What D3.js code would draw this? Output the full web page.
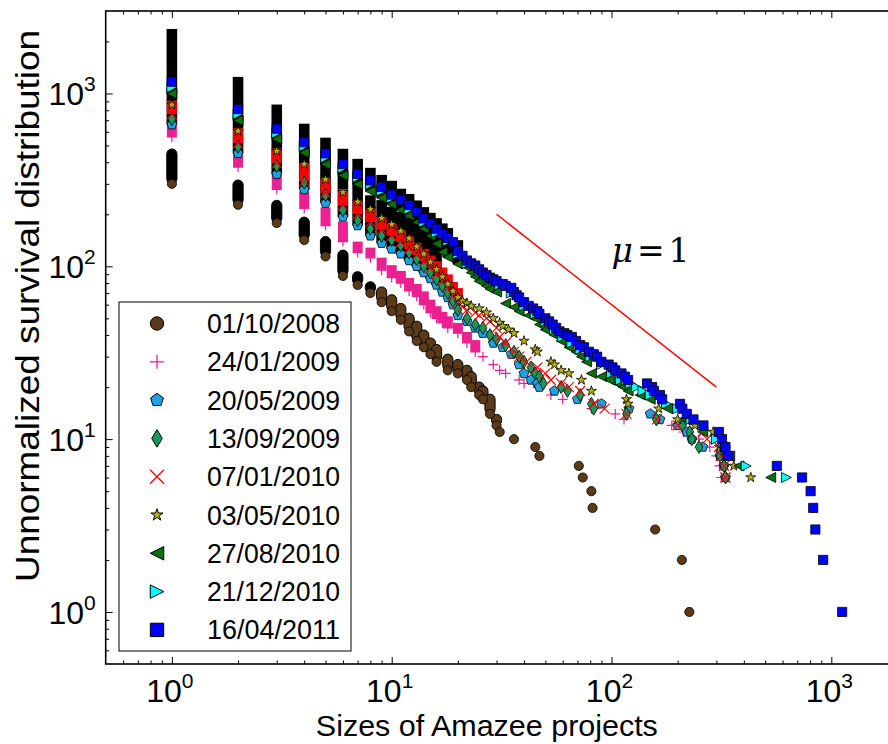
<!DOCTYPE html>
<html>
<head>
<meta charset="utf-8">
<script src="https://cdn.jsdelivr.net/npm/d3@7"></script>
<style>
body { margin: 0; background: #fff; }
text { font-family: "Liberation Sans", Arial, sans-serif; fill: #000; }
</style>
</head>
<body>
<svg id="chart" width="888" height="744"></svg>
<script>
// ---- data: [size, count] pairs ----
const s20081001 = [[1,300],[2,227],[3,178],[4,142],[5,114],[6,88],[7,78],[8,70],[9,62],[10,55],[11,49],[12,42],[13,37],[14,34],[15,31],[16,28],[18,25],[20,24],[22,22],[23,20],[25,18],[26,17],[28,14],[30,12],[31,11],[36,10],[45,9],[47,8],[71,7],[74,6],[81,5],[82,4],[158,3],[209,2],[226,1]];
const s20090124 = [[1,560],[2,375],[3,279],[4,216],[5,172],[6,139],[7,120],[8,112],[9,95],[10,86],[11,80],[12,72],[13,67],[14,60],[15,54],[16,50],[17,47],[18,44],[20,41],[22,36],[24,32],[26,30],[29,27],[31,25],[33,24],[38,22],[40,21],[46,20],[53,18],[60,17],[81,15],[104,14],[114,13],[188,12],[212,11],[250,10],[280,9],[300,8],[310,7],[316,6]];
const s20090520 = [[1,660],[2,450],[3,341],[4,278],[5,232],[6,193],[7,172],[8,150],[9,136],[10,126],[11,118],[12,108],[13,100],[14,92],[15,85],[16,78],[17,71],[18,66],[19,60],[20,52],[22,48],[24,44],[26,41],[29,36],[32,34],[35,31],[38,27],[40,24],[43,22],[46,21],[47,20],[55,19],[70,17],[90,16],[120,15],[150,14],[166,13],[200,12],[220,11],[232,10],[260,9],[312,8],[325,7],[330,6]];
const s20090913 = [[1,710],[2,492],[3,380],[4,305],[5,258],[6,211],[7,184],[8,165],[9,150],[10,142],[11,132],[12,120],[13,110],[14,100],[15,92],[16,84],[17,77],[18,70],[19,63],[20,56],[22,50],[24,46],[26,44],[28,40],[30,38],[33,35],[36,32],[38,30],[40,28],[43,26],[45,24],[47,23],[49,21],[59,20],[63,19],[72,18],[81,16],[83,15],[117,14],[160,13],[210,12],[227,11],[232,10],[250,9],[312,8],[325,7],[330,6]];
const s20100107 = [[1,760],[2,516],[3,395],[4,310],[5,265],[6,225],[7,200],[8,180],[9,163],[10,150],[11,138],[12,126],[13,116],[14,106],[15,98],[16,90],[17,82],[18,75],[19,68],[20,62],[21,58],[22,56],[24,54],[25,52],[27,50],[28,48],[30,44],[31,39],[33,36],[36,32],[38,30],[41,28],[46,26],[50,24],[53,22],[59,21],[64,20],[72,19],[83,16],[93,15],[117,14],[161,13],[200,12],[260,11],[272,10],[308,9],[318,8],[325,7],[330,6]];
const s20100503 = [[1,860],[2,607],[3,464],[4,390],[5,318],[6,268],[7,236],[8,214],[9,190],[10,175],[11,160],[12,145],[13,130],[14,118],[15,106],[16,96],[17,87],[18,79],[19,72],[20,66],[21,63],[22,61],[23,59],[25,57],[27,54],[29,50],[31,47],[32,45],[34,43],[36,41],[40,37],[45,33],[46,32],[53,28],[55,27],[59,25],[64,24],[73,22],[81,19],[117,17],[119,16],[164,15],[200,13],[240,12],[290,11],[310,9],[330,8],[360,7],[430,6]];
const s20100827 = [[1,996],[2,697],[3,545],[4,454],[5,389],[6,335],[7,298],[8,272],[9,249],[10,228],[11,212],[12,196],[13,180],[14,165],[15,150],[16,135],[17,121],[18,113],[20,103],[22,99],[23,92],[24,87],[25,82],[27,77],[28,74],[30,71],[33,61],[36,58],[38,55],[42,52],[45,50],[47,46],[50,43],[55,40],[59,37],[64,34],[69,32],[73,30],[77,28],[81,24],[90,23],[98,22],[106,21],[113,20],[119,19],[135,18],[150,17],[180,15],[215,13],[260,11],[320,9],[345,8],[380,7],[530,6]];
const s20101221 = [[1,1084],[2,760],[3,590],[4,495],[5,425],[6,370],[7,327],[8,298],[9,273],[10,248],[12,214],[14,180],[16,157],[18,140],[20,118],[22,104],[25,94],[28,85],[31,78],[35,70],[40,59],[45,53],[50,48],[55,43],[60,39],[66,36],[72,33],[80,30],[90,27],[100,24],[110,22],[122,21],[130,20],[139,19],[150,18],[178,16],[200,15],[230,13],[260,12],[300,10],[330,9],[410,7],[625,6]];
const s20110416 = [[1,1170],[2,812],[3,626],[4,522],[5,450],[6,390],[7,343],[8,314],[9,288],[10,260],[11,241],[12,226],[13,206],[14,189],[15,177],[16,165],[17,154],[18,146],[19,138],[20,123],[21,115],[22,108],[23,104],[24,101],[25,96],[26,92],[27,89],[28,86],[29,84],[30,82],[32,79],[33,77],[35,75],[36,71],[37,68],[38,66],[40,62],[42,59],[44,57],[46,55],[47,53],[50,50],[52,48],[54,46],[56,44],[58,42],[61,41],[63,40],[66,39],[69,37],[72,35],[75,34],[79,32],[83,31],[86,30],[90,28],[97,27],[101,26],[104,25],[111,24],[115,23],[119,22],[145,21],[153,20],[156,19],[166,18],[170,17],[205,16],[210,15],[220,14],[236,13],[262,12],[308,11],[318,10],[330,9],[340,8],[565,7],[736,6],[805,5],[827,4],[846,3],[918,2],[1120,1]];

// tops of the stacks of unlabelled snapshots piled above each labelled one
const brownTop = [[1,446],[2,295],[3,225],[4,180],[5,139],[6,116],[7,87],[8,76],[9,71],[10,64],[11,57],[12,50],[13,45],[14,40],[15,36],[16,33],[18,29],[20,27],[22,25],[23,23],[25,20],[26,19],[28,17],[30,13]];
const pinkTop = [[1,640],[2,422],[3,320],[4,254],[5,205],[6,170],[7,130],[8,120],[9,105],[10,95],[11,88],[12,80],[13,74],[14,67],[15,60],[16,55],[17,51],[18,48],[20,44],[22,39],[24,35]];
const redTop = [[1,850],[2,590],[3,450],[4,370],[5,305],[6,262],[7,225],[8,200],[9,180],[10,165],[11,152],[12,140],[13,128],[14,118],[15,108],[16,100],[17,92],[18,84],[19,76],[20,70]];
const lowerTop = [[1,996],[2,697],[3,545],[4,454],[5,389],[6,330],[7,282],[8,240],[9,225],[10,206],[11,192],[12,178],[13,165],[14,150],[15,138],[16,126]];
const upperTop = [[1,2200],[2,1162],[3,804],[4,623],[5,517],[6,446],[7,390],[8,346],[9,315],[10,291],[11,262],[12,244],[13,224],[14,205],[15,190],[16,177],[17,165],[18,155],[19,146],[20,132]];

const legendLabels = ['01/10/2008','24/01/2009','20/05/2009','13/09/2009','07/01/2010','03/05/2010','27/08/2010','21/12/2010','16/04/2011'];
const slopeLine = [[30,200],[300,20]];
const slopeLabelAt = [100,106];

// ---- styles ----
const seriesData = [s20081001, s20090124, s20090520, s20090913, s20100107, s20100503, s20100827, s20101221, s20110416];
const styles = [
  {shape:'circle',   r:4.6, fill:'#5b3a19', stroke:'#000', leg:1.45},
  {shape:'plus',     r:5,   fill:'none',    stroke:'#ec2090', leg:1.4},
  {shape:'pentagon', r:5.2, fill:'#1ea3e0', stroke:'#000', leg:1.3},
  {shape:'diamond',  r:6.5, fill:'#159a5a', stroke:'#000', leg:1.35},
  {shape:'cross',    r:5,   fill:'none',    stroke:'#ff0000', leg:1.4},
  {shape:'star',     r:5.3, fill:'#b8b000', stroke:'#000', leg:1.2},
  {shape:'triLeft',  r:5,   fill:'#0a700a', stroke:'#000', leg:1.35},
  {shape:'triRight', r:5,   fill:'#00ffff', stroke:'#000', leg:1.35},
  {shape:'square',   r:4.6, fill:'#0000ff', stroke:'#000', leg:1.45}
];

function poly(pts) { return 'M' + pts.map(p => p[0].toFixed(2) + ',' + p[1].toFixed(2)).join('L') + 'Z'; }

function markerPath(shape, r) {
  switch (shape) {
    case 'circle': return `M${r},0A${r},${r} 0 1,1 ${-r},0A${r},${r} 0 1,1 ${r},0Z`;
    case 'plus': return `M${-r},0H${r}M0,${-r}V${r}`;
    case 'cross': return `M${-r},${-r}L${r},${r}M${-r},${r}L${r},${-r}`;
    case 'square': return `M${-r},${-r}H${r}V${r}H${-r}Z`;
    case 'diamond': return poly([[0,-r],[r*0.6,0],[0,r],[-r*0.6,0]]);
    case 'triLeft': return poly([[-r,0],[r,-r],[r,r]]);
    case 'triRight': return poly([[r,0],[-r,-r],[-r,r]]);
    case 'pentagon': return poly(d3.range(5).map(k => {
      const a = (-90 + 72*k) * Math.PI/180; return [r*Math.cos(a), r*Math.sin(a)]; }));
    case 'star': return poly(d3.range(10).map(k => {
      const a = (-90 + 36*k) * Math.PI/180, rr = k % 2 ? r*0.382 : r;
      return [rr*Math.cos(a), rr*Math.sin(a)]; }));
  }
}

// ---- scales ----
const svg = d3.select('#chart');
const x = d3.scaleLog().domain([0.5, 2000]).range([105.7, 897.5]);
const y = d3.scaleLog().domain([0.5, 3000]).range([664, 11]);

svg.append('defs').append('clipPath').attr('id', 'plotclip').append('rect')
  .attr('x', x.range()[0]).attr('y', y.range()[1])
  .attr('width', x.range()[1] - x.range()[0]).attr('height', y.range()[0] - y.range()[1]);

const plot = svg.append('g').attr('clip-path', 'url(#plotclip)');

// ---- stacks (many overlapping snapshots) ----
function drawStack(tops, lowSeries, hw, fill, rx, stroke) {
  const low = new Map(lowSeries);
  plot.append('g').selectAll('rect').data(tops.filter(d => low.has(d[0]))).join('rect')
    .attr('x', d => x(d[0]) - hw).attr('width', 2 * hw)
    .attr('y', d => y(d[1]) - hw)
    .attr('height', d => y(low.get(d[0])) - y(d[1]) + hw)
    .attr('rx', rx)
    .attr('fill', typeof fill === 'function' ? fill : () => fill)
    .attr('stroke', stroke || 'none').attr('stroke-width', 1);
}

drawStack(upperTop, s20100827, 5.3, '#000', 0);
drawStack(lowerTop, s20090520, 5.3, '#000', 0);
drawStack(redTop, s20100107, 5, '#ff0000', 0);
drawStack(pinkTop, s20090124, 5, '#ec2090', 0);
drawStack(brownTop, s20081001, 5.1, d => d[0] <= 8 ? '#000' : '#5b3a19', 5, '#000');

// ---- series markers ----
seriesData.forEach((data, i) => {
  const st = styles[i];
  plot.append('g').selectAll('path').data(data).join('path')
    .attr('transform', d => `translate(${x(d[0])},${y(d[1])})`)
    .attr('d', markerPath(st.shape, st.r))
    .attr('fill', st.fill).attr('stroke', st.stroke)
    .attr('stroke-width', st.fill === 'none' ? 1.2 : 0.8);
});

// ---- mu = 1 guide ----
plot.append('path')
  .attr('d', d3.line().x(d => x(d[0])).y(d => y(d[1]))(slopeLine))
  .attr('stroke', '#ff0000').attr('stroke-width', 1.4).attr('fill', 'none');

const mu = svg.append('text')
  .attr('x', x(slopeLabelAt[0])).attr('y', y(slopeLabelAt[1]))
  .style('font-family', '"DejaVu Serif", "Liberation Serif", serif').style('font-size', '33px');
mu.append('tspan').attr('font-style', 'italic').text('μ');
mu.append('tspan').attr('dx', 4).text('=');
mu.append('tspan').attr('dx', 4).text('1');

// ---- axes ----
const majorX = [1, 10, 100, 1000];
const majorY = [1, 10, 100, 1000];
function minorTicks(lo, hi) {
  const out = [];
  [0.1, 1, 10, 100, 1000].forEach(d => d3.range(2, 10).forEach(m => {
    const v = d * m; if (v > lo && v < hi) out.push(v);
  }));
  return out;
}
const minorX = minorTicks(0.5, 2000);
const minorY = minorTicks(0.5, 3000);

function addAxis(gen, tx, ty) {
  const g = svg.append('g').attr('transform', `translate(${tx},${ty})`).call(gen);
  g.select('.domain').remove();
  g.selectAll('text').remove();
  g.selectAll('line').attr('stroke', '#000').attr('stroke-width', 1);
}
const [x0, x1] = x.range(), [y0, y1] = y.range();
addAxis(d3.axisBottom(x).tickValues(majorX).tickSize(-7), 0, y0);
addAxis(d3.axisBottom(x).tickValues(minorX).tickSize(-3.5), 0, y0);
addAxis(d3.axisTop(x).tickValues(majorX).tickSize(-7), 0, y1);
addAxis(d3.axisTop(x).tickValues(minorX).tickSize(-3.5), 0, y1);
addAxis(d3.axisLeft(y).tickValues(majorY).tickSize(-7), x0, 0);
addAxis(d3.axisLeft(y).tickValues(minorY).tickSize(-3.5), x0, 0);
addAxis(d3.axisRight(y).tickValues(majorY).tickSize(-7), x1, 0);
addAxis(d3.axisRight(y).tickValues(minorY).tickSize(-3.5), x1, 0);

svg.append('rect').attr('x', x0).attr('y', y1).attr('width', x1 - x0).attr('height', y0 - y1)
  .attr('fill', 'none').attr('stroke', '#000').attr('stroke-width', 1.6);

// tick labels 10^n
function powLabel(sel) {
  sel.append('tspan').text('10');
  sel.append('tspan').attr('dy', -14).style('font-size', '21px')
    .text(d => Math.round(Math.log10(d)));
}
svg.append('g').selectAll('text').data(majorX).join('text')
  .attr('x', d => x(d) - 2).attr('y', y0 + 38)
  .attr('text-anchor', 'middle').style('font-size', '32px')
  .call(powLabel);
svg.append('g').selectAll('text').data(majorY).join('text')
  .attr('x', x0 - 10).attr('y', d => y(d) + 12)
  .attr('text-anchor', 'end').style('font-size', '32px')
  .call(powLabel);

// axis titles
svg.append('text').attr('x', (x0 + 888) / 2 - 10).attr('y', 736)
  .attr('text-anchor', 'middle').style('font-size', '30px')
  .attr('textLength', 342).attr('lengthAdjust', 'spacingAndGlyphs')
  .text('Sizes of Amazee projects');
svg.append('text').attr('transform', 'translate(39,306) rotate(-90)')
  .attr('text-anchor', 'middle').style('font-size', '34px')
  .attr('textLength', 552).attr('lengthAdjust', 'spacingAndGlyphs')
  .text('Unnormalized survival distribution');

// ---- legend ----
const leg = svg.append('g');
leg.append('rect').attr('x', 119).attr('y', 302).attr('width', 232).attr('height', 349)
  .attr('fill', '#fff').attr('stroke', '#000').attr('stroke-width', 1);
const rows = leg.selectAll('g.row').data(legendLabels).join('g').attr('class', 'row')
  .attr('transform', (d, i) => `translate(157,${323.5 + i * 38.3})`);
rows.append('path')
  .attr('d', (d, i) => markerPath(styles[i].shape, styles[i].r * styles[i].leg))
  .attr('fill', (d, i) => styles[i].fill).attr('stroke', (d, i) => styles[i].stroke)
  .attr('stroke-width', (d, i) => styles[i].fill === 'none' ? 1.3 : 1);
rows.append('text').attr('x', 50).attr('y', 9.5).style('font-size', '27px')
  .attr('textLength', 133).attr('lengthAdjust', 'spacingAndGlyphs')
  .text(d => d);
</script>
</body>
</html>
